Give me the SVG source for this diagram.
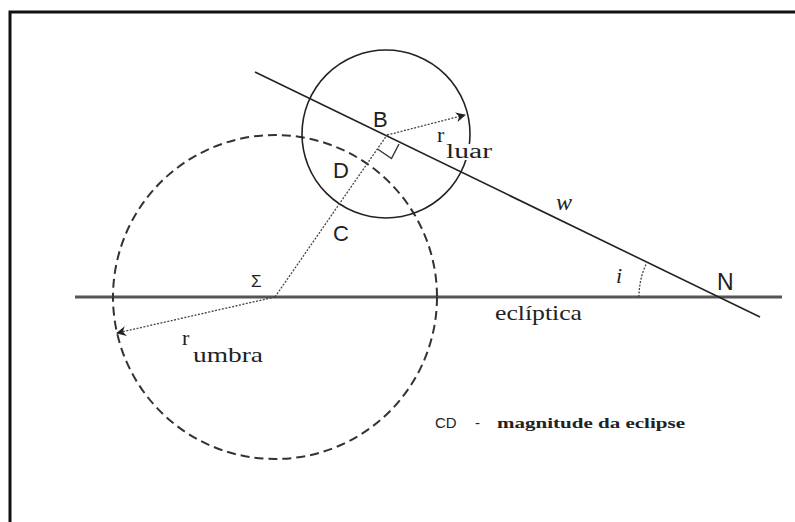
<svg xmlns="http://www.w3.org/2000/svg" width="795" height="522" viewBox="0 0 795 522">
<defs>
<style>
.sans{font-family:"Liberation Sans",Arial,sans-serif;fill:#222}
.serif{font-family:"Liberation Serif","Times New Roman",serif;fill:#222}
.dot{fill:none;stroke:#444;stroke-width:1.3;stroke-dasharray:2 1.5}
.solid{fill:none;stroke:#222;stroke-width:1.6}
</style>
<marker id="ah" viewBox="0 0 10 10" refX="9" refY="5" markerWidth="10" markerHeight="10" markerUnits="userSpaceOnUse" orient="auto">
<path d="M0,0 L10,5 L0,10 L3,5 Z" fill="#222"/>
</marker>
</defs>
<rect x="0" y="0" width="795" height="522" fill="#fff"/>
<g id="frame">
<path d="M10,522 L10,12 L795,12" fill="none" stroke="#111" stroke-width="3"/>
</g>
<g id="ecliptica">
<line x1="75" y1="297" x2="782" y2="297" stroke="#555" stroke-width="3"/>
<text class="serif" x="495" y="320" font-size="22" textLength="87" lengthAdjust="spacingAndGlyphs">eclíptica</text>
</g>
<g id="umbra">
<circle cx="275" cy="297" r="162" fill="none" stroke="#333" stroke-width="2" stroke-dasharray="9 5"/>
</g>
<g id="lua">
<circle cx="386" cy="134" r="84" class="solid"/>
</g>
<g id="orbita-w">
<line x1="255" y1="72" x2="760" y2="317" class="solid"/>
<text class="serif" x="556" y="210" font-size="24" font-style="italic">w</text>
</g>
<g id="connectors">
<line x1="275" y1="297" x2="387" y2="135" class="dot"/>
<line x1="387" y1="135" x2="465" y2="115" class="dot" marker-end="url(#ah)"/>
<line x1="275" y1="297" x2="117" y2="333" class="dot" marker-end="url(#ah)"/>
<path d="M377.5,149 L391.5,158.5 L399,144" fill="none" stroke="#333" stroke-width="1.4"/>
<path d="M639,297 A80,80 0 0 1 647,262" class="dot"/>
</g>
<g id="labels">
<text class="sans" x="373" y="127" font-size="22">B</text>
<text class="sans" x="333" y="178" font-size="22">D</text>
<text class="sans" x="333" y="241" font-size="22">C</text>
<text class="sans" x="251" y="287" font-size="17">Σ</text>
<text class="sans" x="717" y="290" font-size="23">N</text>
<text class="serif" x="616" y="283" font-size="22" font-style="italic">i</text>
<g id="r-luar">
<rect x="445" y="144" width="48" height="16" fill="#fff"/>
<text class="serif" x="437" y="142" font-size="22">r</text>
<text class="serif" x="446" y="158" font-size="20" textLength="46" lengthAdjust="spacingAndGlyphs">luar</text>
</g>
<g id="r-umbra">
<text class="serif" x="182" y="345" font-size="22">r</text>
<text class="serif" x="193" y="362" font-size="22" textLength="70" lengthAdjust="spacingAndGlyphs">umbra</text>
</g>
<g id="legenda">
<text class="sans" x="435" y="428" font-size="15">CD</text>
<text class="sans" x="475" y="428" font-size="15">-</text>
<text class="serif" x="497" y="428" font-size="15" font-weight="bold" textLength="188" lengthAdjust="spacingAndGlyphs">magnitude da eclipse</text>
</g>
</g>
</svg>
